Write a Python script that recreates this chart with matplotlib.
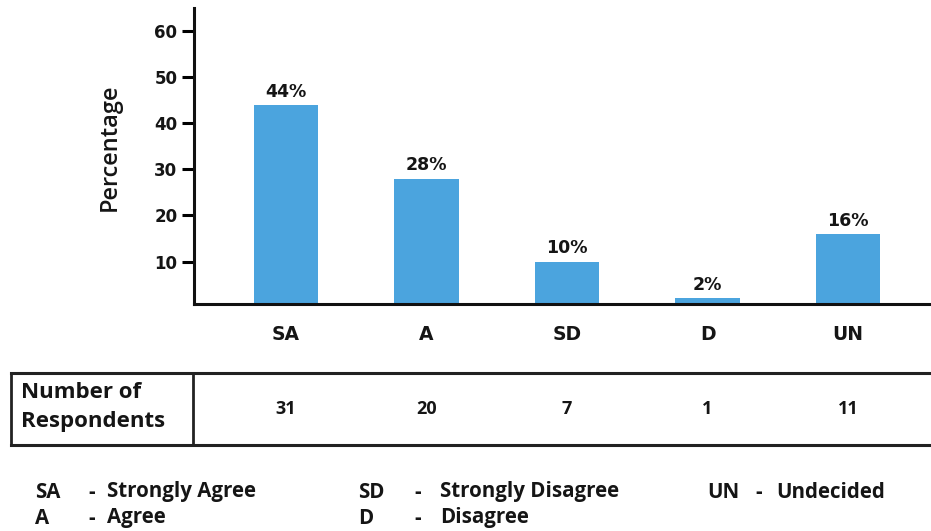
import matplotlib.pyplot as plt
from matplotlib.lines import Line2D
from matplotlib.transforms import blended_transform_factory

categories = ['SA', 'A', 'SD', 'D', 'UN']
percentages = [44, 28, 10, 2, 16]
respondents = [31, 20, 7, 1, 11]
yticks = [10, 20, 30, 40, 50, 60]
legend_rows = [
    [('SA', 'Strongly Agree'), ('SD', 'Strongly Disagree'), ('UN', 'Undecided')],
    [('A', 'Agree'), ('D', 'Disagree')],
]

bar_color = '#4ba4de'
num_font = 'DejaVu Sans'
text_font = 'Open Sans'
ink = '#151515'

fig = plt.figure(figsize=(9.31, 5.31), dpi=100)
W, H = 931, 531


def fx(px):
    return px / W


def fy(py):
    return 1 - py / H


ax = fig.add_axes([fx(194), fy(304), fx(931 - 194), fy(8) - fy(304)])
xs = list(range(len(categories)))
ax.bar(xs, percentages, width=0.46, color=bar_color, zorder=2)
ax.set_xlim(-0.655, 4.59)
ax.set_ylim(0.8, 65)

for x, p in zip(xs, percentages):
    ax.text(x, p + 0.9, f'{p}%', ha='center', va='bottom', fontsize=12.5,
            fontweight='bold', family=num_font, color=ink)

ax.set_yticks(yticks)
ax.set_yticklabels([str(t) for t in yticks], fontsize=12, fontweight='bold',
                   family=num_font, color=ink)
ax.set_xticks(xs)
ax.set_xticklabels(categories, fontsize=13.5, fontweight='bold',
                   family=num_font, color=ink)
ax.tick_params(axis='y', length=9, width=2.2, pad=3)
ax.tick_params(axis='x', length=0, pad=15)
for side in ['top', 'right']:
    ax.spines[side].set_visible(False)
for side in ['left', 'bottom']:
    ax.spines[side].set_linewidth(2.2)
    ax.spines[side].set_color('#111111')
fig.text(fx(110), fy(147), 'Percentage', rotation=90, ha='center',
         va='center', fontsize=17, fontweight='semibold', family=text_font,
         color=ink)

# respondents table under the chart
tab_top, tab_bot = fy(373), fy(445)
for yy in (tab_top, tab_bot):
    fig.add_artist(Line2D([fx(11), 1.0], [yy, yy], color='#222222', lw=2.2))
for xx in (fx(11), fx(193)):
    fig.add_artist(Line2D([xx, xx], [tab_top, tab_bot], color='#222222', lw=2.0))
fig.text(fx(21), fy(407), 'Number of\nRespondents',
         ha='left', va='center', fontsize=16, fontweight='bold',
         family=text_font, color=ink, linespacing=1.55)
trans = blended_transform_factory(ax.transData, fig.transFigure)
for x, n in zip(xs, respondents):
    ax.text(x, (tab_top + tab_bot) / 2, str(n), transform=trans, ha='center',
            va='center', fontsize=13, fontweight='bold', family=text_font,
            color=ink, clip_on=False)

# abbreviation key
col_x = [(35, 88, 107), (358, 414, 440), (707, 755, 776)]
row_y = [492, 518]
for r, row in enumerate(legend_rows):
    for c, (abbr, full) in enumerate(row):
        a, d, t = col_x[c]
        y = fy(row_y[r])
        for px, s in ((a, abbr), (d, '-'), (t, full)):
            fig.text(fx(px), y, s, ha='left', va='center', fontsize=14.8,
                     fontweight='bold', family=text_font, color=ink)

fig.savefig('out.png', dpi=100)
